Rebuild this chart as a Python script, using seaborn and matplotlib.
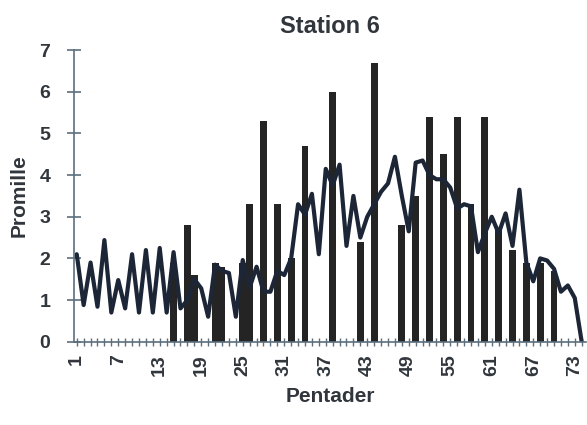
import numpy as np
import pandas as pd
from matplotlib import pyplot as plt
import seaborn as sns

# pentads 1..74, smoothed line (promille)
pentads = list(range(1, 75))
line_vals = [2.1, 0.88, 1.9, 0.84, 2.44, 0.7, 1.48, 0.8, 2.1, 0.7,
             2.2, 0.7, 2.25, 0.7, 2.15, 0.8, 1.0, 1.5, 1.28, 0.6,
             1.85, 1.7, 1.65, 0.6, 1.96, 1.3, 1.8, 1.2, 1.2, 1.7,
             1.6, 2.0, 3.3, 3.05, 3.55, 2.1, 4.15, 3.75, 4.25, 2.3,
             3.5, 2.5, 3.0, 3.3, 3.6, 3.8, 4.44, 3.5, 2.65, 4.3,
             4.35, 4.0, 3.9, 3.9, 3.7, 3.2, 3.3, 3.25, 2.15, 2.6,
             3.0, 2.6, 3.08, 2.3, 3.65, 1.9, 1.45, 2.0, 1.95, 1.75,
             1.2, 1.35, 1.05, 0.0]

# pentads with observations (bars)
bar_pentads = [15, 17, 18, 21, 22, 25, 26, 28, 30, 32, 34, 38, 42, 44,
               48, 50, 52, 54, 56, 58, 60, 62, 64, 66, 68, 70]
bar_vals = [1.9, 2.8, 1.6, 1.9, 1.8, 1.9, 3.3, 5.3, 3.3, 2.0, 4.7, 6.0,
            2.4, 6.7, 2.8, 3.5, 5.4, 4.5, 5.4, 3.3, 5.4, 2.7, 2.2, 1.9,
            1.9, 1.7]

xtick_labels = [str(p) if (p - 1) % 6 == 0 else '' for p in pentads]

sns.set_style('white')
plt.rcParams['font.family'] = ['Liberation Sans', 'DejaVu Sans']
text_col = '#30363c'
axis_col = '#5b6f7e'

fig = plt.figure(figsize=(5.87, 4.25), dpi=100)
ax = fig.add_axes([0.126, 0.196, 0.872, 0.686])

# full pentad table, empty pentads get 0
bars = (pd.Series(bar_vals, index=bar_pentads)
        .reindex(pentads, fill_value=0.0)
        .rename_axis('pentad').reset_index(name='promille'))
sns.barplot(data=bars, x='pentad', y='promille', native_scale=True,
            width=1.0, color='#242424', saturation=1, linewidth=0, ax=ax)

line = pd.DataFrame({'pentad': pentads, 'promille': line_vals})
sns.lineplot(data=line, x='pentad', y='promille', color='#1c2636',
             linewidth=3.0, solid_joinstyle='round', ax=ax)

ax.set_xlim(0.6, 74.6)
ax.set_ylim(0, 7)
ax.set_xticks(pentads)
ax.set_xticklabels(xtick_labels, rotation=90, fontsize=14, fontweight='bold',
                   color=text_col)
ax.set_yticks(range(0, 8))
ax.set_yticklabels([str(i) for i in range(0, 8)], fontsize=14,
                   fontweight='bold', color=text_col)

for side in ['top', 'right']:
    ax.spines[side].set_visible(False)
for side in ['left', 'bottom']:
    ax.spines[side].set_color(axis_col)
    ax.spines[side].set_linewidth(1.2)

ax.tick_params(axis='y', direction='inout', length=10, width=1.2,
               color=axis_col, pad=12, left=True)
ax.tick_params(axis='x', direction='inout', length=6, width=1,
               color=axis_col, pad=6, bottom=True)

ax.set_xlabel('Pentader', fontsize=15, fontweight='bold', color=text_col,
              labelpad=8)
ax.set_ylabel('Promille', fontsize=15, fontweight='bold', color=text_col,
              labelpad=8)
ax.set_title('Station 6', fontsize=17, fontweight='bold', color=text_col,
             pad=12)

plt.savefig('out.png', dpi=100)
